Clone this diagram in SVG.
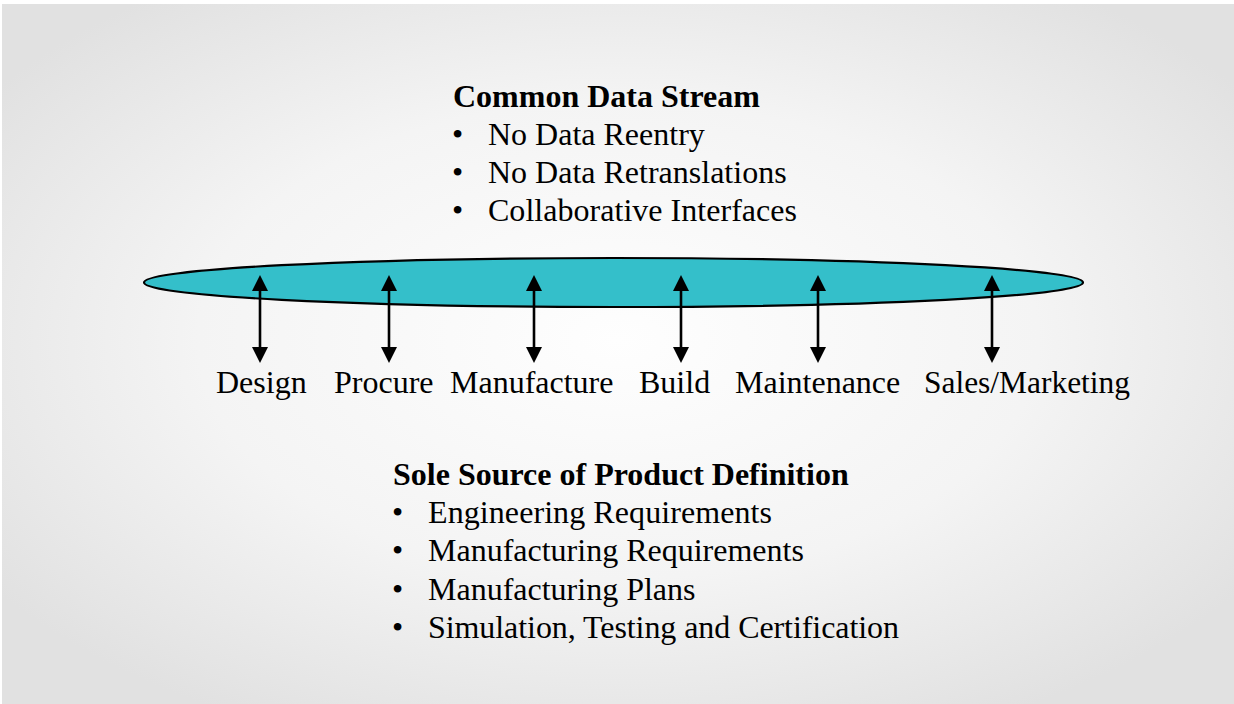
<svg xmlns="http://www.w3.org/2000/svg" width="1234" height="704" viewBox="0 0 1234 704">
  <defs>
    <radialGradient id="bg" cx="50%" cy="48%" r="62%">
      <stop offset="0" stop-color="#fefefe"/>
      <stop offset="0.55" stop-color="#f4f4f4"/>
      <stop offset="1" stop-color="#e1e1e1"/>
    </radialGradient>
    <marker id="ah" viewBox="0 0 16 16" markerUnits="userSpaceOnUse" markerWidth="16" markerHeight="16" refX="10" refY="8" orient="auto-start-reverse">
      <path d="M0,0 L16,8 L0,16 Z" fill="#000"/>
    </marker>
    <style>
      .t { font-family: "Liberation Serif", "Times New Roman", serif; font-size: 32px; fill: #000; }
      .b { font-weight: bold; }
      .arr { stroke: #000; stroke-width: 2.6; fill: none; marker-start: url(#ah); marker-end: url(#ah); }
    </style>
  </defs>
  <rect x="0" y="0" width="1234" height="704" fill="#ffffff"/>
  <rect x="2" y="4" width="1232" height="700" fill="url(#bg)"/>

  <g id="top-text">
    <text class="t b" x="453" y="107">Common Data Stream</text>
    <text class="t" x="452" y="145">•</text><text class="t" x="488" y="145">No Data Reentry</text>
    <text class="t" x="452" y="183">•</text><text class="t" x="488" y="183">No Data Retranslations</text>
    <text class="t" x="452" y="221">•</text><text class="t" x="488" y="221" textLength="309" lengthAdjust="spacing">Collaborative Interfaces</text>
  </g>

  <g id="data-stream">
    <ellipse cx="613.5" cy="282.5" rx="469.5" ry="24.5" fill="#34bfca" stroke="#000" stroke-width="2.2"/>
  </g>

  <g id="connectors">
    <line class="arr" x1="260" y1="281" x2="260" y2="357"/>
    <line class="arr" x1="389" y1="281" x2="389" y2="357"/>
    <line class="arr" x1="534" y1="281" x2="534" y2="357"/>
    <line class="arr" x1="681" y1="281" x2="681" y2="357"/>
    <line class="arr" x1="818" y1="281" x2="818" y2="357"/>
    <line class="arr" x1="992" y1="281" x2="992" y2="357"/>
  </g>

  <g id="design"><text class="t" x="216" y="393">Design</text></g>
  <g id="procure"><text class="t" x="334" y="393">Procure</text></g>
  <g id="manufacture"><text class="t" x="450" y="393">Manufacture</text></g>
  <g id="build"><text class="t" x="639" y="393">Build</text></g>
  <g id="maintenance"><text class="t" x="735" y="393">Maintenance</text></g>
  <g id="sales-marketing"><text class="t" x="924" y="393" textLength="206" lengthAdjust="spacingAndGlyphs">Sales/Marketing</text></g>

  <g id="bottom-text">
    <text class="t b" x="393" y="485">Sole Source of Product Definition</text>
    <text class="t" x="392" y="523">•</text><text class="t" x="428" y="523" textLength="344" lengthAdjust="spacing">Engineering Requirements</text>
    <text class="t" x="392" y="561">•</text><text class="t" x="428" y="561">Manufacturing Requirements</text>
    <text class="t" x="392" y="600">•</text><text class="t" x="428" y="600">Manufacturing Plans</text>
    <text class="t" x="392" y="638">•</text><text class="t" x="428" y="638" textLength="471" lengthAdjust="spacing">Simulation, Testing and Certification</text>
  </g>
</svg>
